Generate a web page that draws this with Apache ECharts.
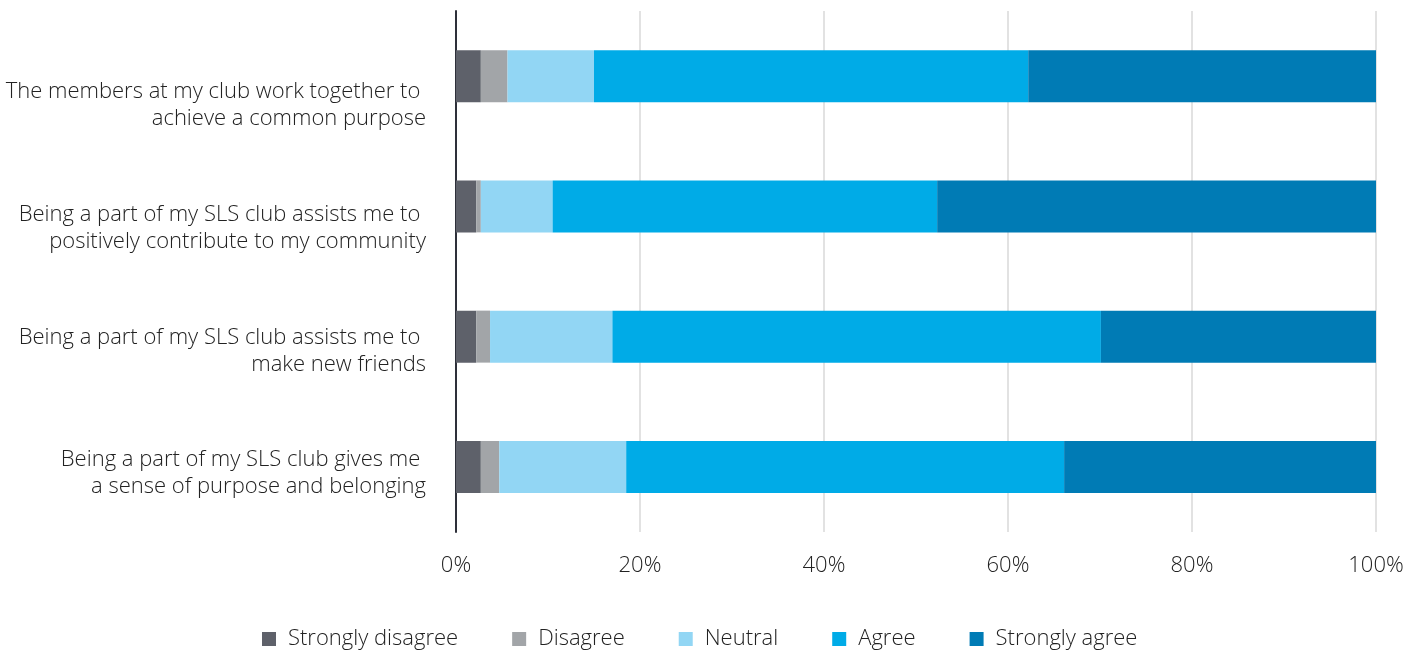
<!DOCTYPE html>
<html>
<head>
<meta charset="utf-8">
<script src="https://cdn.jsdelivr.net/npm/echarts@6/dist/echarts.min.js"></script>
<style>html,body{margin:0;padding:0;background:#fff;}#chart{width:1422px;height:651px;}</style>
</head>
<body>
<div id="chart"></div>
<script>
const categories = [
  "The members at my club work together to",
  "Being a part of my SLS club assists me to",
  "Being a part of my SLS club assists me to",
  "Being a part of my SLS club gives me"
];
const categoryLabels = [
  "The members at my club work together to \nachieve a common purpose",
  "Being a part of my SLS club assists me to \npositively contribute to my community",
  "Being a part of my SLS club assists me to \nmake new friends",
  "Being a part of my SLS club gives me \na sense of purpose and belonging"
];
const seriesNames = ["Strongly disagree", "Disagree", "Neutral", "Agree", "Strongly agree"];
const stronglyDisagree = [2.7, 2.2, 2.2, 2.7];
const disagree = [2.9, 0.5, 1.5, 2.0];
const neutral = [9.4, 7.8, 13.3, 13.8];
const agree = [47.2, 41.8, 53.1, 47.6];
const stronglyAgree = [37.8, 47.7, 29.9, 33.9];
const xTicks = [0, 20, 40, 60, 80, 100];
const colors = ["#5e616a", "#a2a5a8", "#92d6f4", "#00abe7", "#007bb5"];

const values = [stronglyDisagree, disagree, neutral, agree, stronglyAgree];
const font = "'Open Sans', 'Noto Sans', sans-serif";
const txt = {fontFamily: font, fontSize: 22, fontWeight: 300, color: '#222'};
const chart = echarts.init(document.getElementById('chart'), null, {renderer: 'canvas'});
chart.setOption({
  animation: false,
  color: colors,
  textStyle: {fontFamily: font},
  grid: [
    {left: 456, right: 46, top: 11, bottom: 119, containLabel: false},
    {left: 456, right: 46, top: 44, bottom: 116, containLabel: false}
  ],
  legend: {
    left: 257, top: 623,
    itemWidth: 14, itemHeight: 14, itemGap: 54,
    icon: 'rect',
    data: seriesNames,
    textStyle: Object.assign({}, txt, {padding: [0, 0, 0, 7]})
  },
  xAxis: [{
    type: 'value', min: 0, max: 100, interval: 20, gridIndex: 0,
    axisLine: {show: false}, axisTick: {show: false},
    splitLine: {show: true, lineStyle: {color: '#d9d9d9', width: 1.5}},
    axisLabel: Object.assign({formatter: v => xTicks.includes(v) ? v + '%' : '', margin: 23}, txt)
  }, {
    type: 'value', min: 0, max: 100, gridIndex: 1, show: false
  }],
  yAxis: [{
    type: 'category', inverse: true, data: categories, gridIndex: 0,
    axisLine: {show: true, lineStyle: {color: '#2e303a', width: 2}},
    axisTick: {show: false},
    axisLabel: {show: false}
  }, {
    type: 'category', inverse: true, data: categoryLabels, gridIndex: 1,
    axisLine: {show: false}, axisTick: {show: false}, splitLine: {show: false},
    axisLabel: Object.assign({lineHeight: 27, align: 'right', margin: 30}, txt)
  }],
  series: seriesNames.map((n, i) => ({
    name: n, type: 'bar', stack: 'total', barWidth: 52,
    xAxisIndex: 0, yAxisIndex: 0,
    data: values[i],
    itemStyle: {color: colors[i]}
  }))
});
</script>
</body>
</html>
